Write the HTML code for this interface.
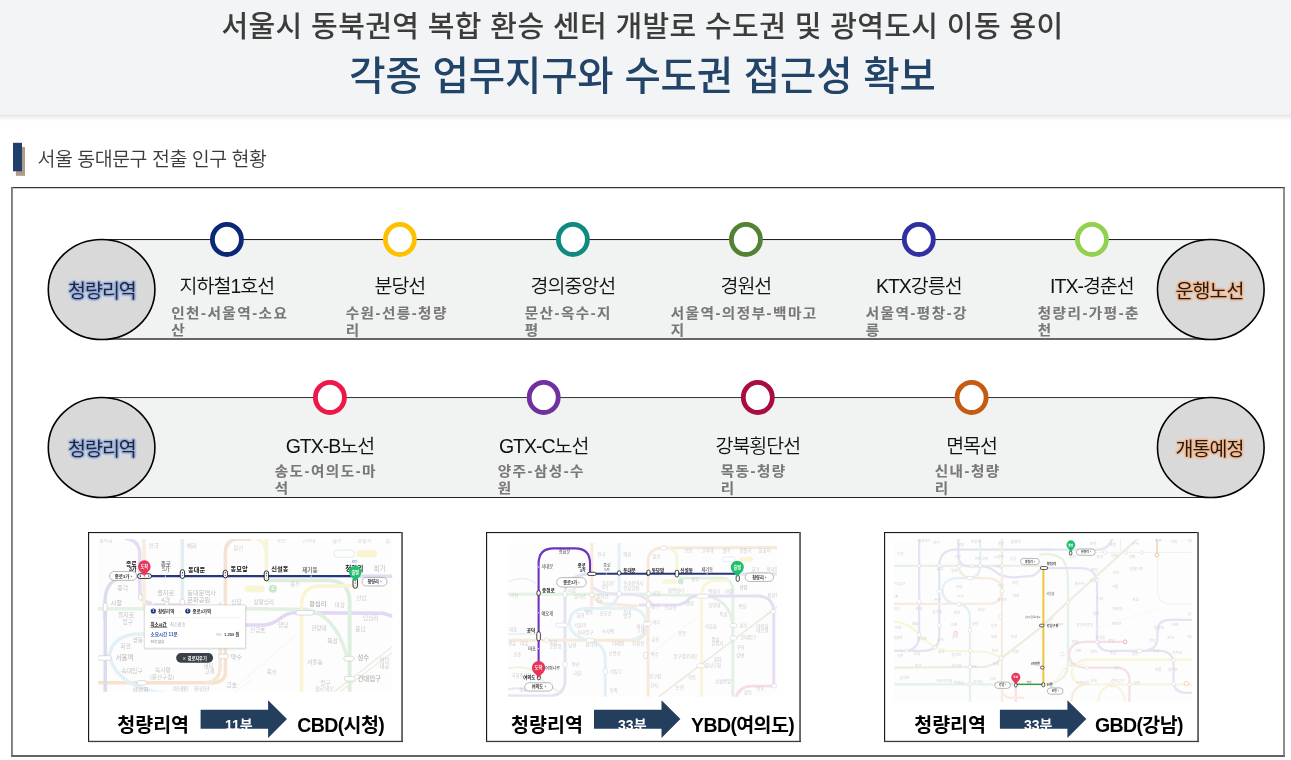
<!DOCTYPE html>
<html lang="ko">
<head>
<meta charset="utf-8">
<title>각종 업무지구와 수도권 접근성 확보</title>
<style>
*{box-sizing:border-box;margin:0;padding:0}
html,body{width:1291px;height:760px;overflow:hidden;background:#fff}
body{position:relative;font-family:"Liberation Sans","Noto Sans CJK KR",sans-serif;color:#222}
.abs{position:absolute}
#t1{left:-3px;top:1px;width:1291px;text-align:center;font-size:29px;line-height:52px;color:#3c3c3c;font-weight:500;white-space:nowrap;letter-spacing:.38px}
#t2{left:-3px;top:48px;width:1291px;text-align:center;font-size:39.5px;line-height:56px;color:#224469;font-weight:500;white-space:nowrap;letter-spacing:-.14px}
#sec{left:37.5px;top:145.1px;font-size:19.5px;line-height:28px;color:#3a3a3a;font-weight:350;white-space:nowrap;letter-spacing:-.5px}
.big{width:107px;height:100px;text-align:center;font-weight:400;font-size:19.5px;line-height:100px;letter-spacing:-1px;white-space:nowrap}
.big.l{left:48.4px;color:#1f2638;text-shadow:1.3px 0px 1.2px #9bb1df,-1.3px 0px 1.2px #9bb1df,0px 1.3px 1.2px #9bb1df,0px -1.3px 1.2px #9bb1df,1px 1px 1.2px #9bb1df,-1px 1px 1.2px #9bb1df,1px -1px 1.2px #9bb1df,-1px -1px 1.2px #9bb1df,0 0 2.5px #9bb1df}
.big.r{left:1156px;color:#221a14;text-shadow:1.3px 0px 1.2px #f3b88f,-1.3px 0px 1.2px #f3b88f,0px 1.3px 1.2px #f3b88f,0px -1.3px 1.2px #f3b88f,1px 1px 1.2px #f3b88f,-1px 1px 1.2px #f3b88f,1px -1px 1.2px #f3b88f,-1px -1px 1.2px #f3b88f,0 0 2.5px #f3b88f}
.lbl{width:180px;margin-left:-90px;text-align:center;font-size:19.5px;line-height:28px;font-weight:350;color:#111;white-space:nowrap;letter-spacing:-1px}
.sub{font-size:14.6px;line-height:18.3px;font-weight:700;color:#787878;white-space:nowrap;letter-spacing:1.5px;transform:scaleY(.94);transform-origin:0 0;-webkit-text-stroke:.12px #787878}
.cap{font-size:19.5px;font-weight:700;color:#000;line-height:28px;white-space:nowrap}
.min{font-size:14px;font-weight:700;color:#fff;white-space:nowrap;line-height:20px;overflow:hidden}
</style>
</head>
<body>
<svg class="abs" id="gfx" width="1291" height="760" viewBox="0 0 1291 760" style="left:0;top:0">
<defs><linearGradient id="sh" x1="0" y1="0" x2="0" y2="1"><stop offset="0" stop-color="#000" stop-opacity=".15"/><stop offset=".22" stop-color="#000" stop-opacity=".07"/><stop offset="1" stop-color="#000" stop-opacity="0"/></linearGradient><filter id="soft" x="-5%" y="-5%" width="110%" height="110%"><feGaussianBlur stdDeviation="0.35"/></filter></defs>
<rect x="0" y="114.6" width="1291" height="6.6" fill="url(#sh)"/>
<rect x="0" y="0" width="1291" height="114.7" fill="#f2f4f5"/>
<rect x="15.9" y="147" width="9.1" height="28.8" fill="#b09a8a"/>
<rect x="13" y="142.8" width="9" height="28.5" fill="#20406a"/>
<rect x="11" y="187" width="1274" height="569.6" fill="#fff"/>
<rect x="11" y="187" width="1274" height="1.25" fill="#383838"/>
<rect x="11" y="755.3" width="1274" height="1.4" fill="#222"/>
<rect x="11.1" y="187" width="1.7" height="569.6" fill="#707070"/>
<rect x="1283.2" y="187" width="1.6" height="569.6" fill="#707070"/>
<rect x="101" y="240" width="1110" height="98" fill="#f1f2f2"/>
<rect x="101" y="239" width="1110" height="1.05" fill="#222"/>
<rect x="101" y="338" width="1110" height="2" fill="#666"/>
<ellipse cx="101.6" cy="289.5" rx="53.3" ry="50.05" fill="#d9d9d9" stroke="#000" stroke-width="1.6"/>
<ellipse cx="1210.8" cy="289.5" rx="53.3" ry="50.05" fill="#d9d9d9" stroke="#000" stroke-width="1.6"/>
<ellipse cx="226.9" cy="239.4" rx="14.5" ry="15.1" fill="#fff" stroke="#0b2878" stroke-width="4.8"/>
<ellipse cx="399.9" cy="239.4" rx="14.5" ry="15.1" fill="#fff" stroke="#ffc000" stroke-width="4.8"/>
<ellipse cx="572.9" cy="239.4" rx="14.5" ry="15.1" fill="#fff" stroke="#0e8a80" stroke-width="4.8"/>
<ellipse cx="745.9" cy="239.4" rx="14.5" ry="15.1" fill="#fff" stroke="#548235" stroke-width="4.8"/>
<ellipse cx="918.8" cy="239.4" rx="14.5" ry="15.1" fill="#fff" stroke="#3030a2" stroke-width="4.8"/>
<ellipse cx="1091.9" cy="239.4" rx="14.5" ry="15.1" fill="#fff" stroke="#92d050" stroke-width="4.8"/>
<rect x="101" y="398" width="1110" height="99" fill="#f1f2f2"/>
<rect x="101" y="397" width="1110" height="1.05" fill="#3c3c3c"/>
<rect x="101" y="497" width="1110" height="1" fill="#222"/>
<ellipse cx="101.6" cy="447.5" rx="53.3" ry="50.05" fill="#d9d9d9" stroke="#000" stroke-width="1.6"/>
<ellipse cx="1210.8" cy="447.5" rx="53.3" ry="50.05" fill="#d9d9d9" stroke="#000" stroke-width="1.6"/>
<ellipse cx="329.9" cy="397.4" rx="14.5" ry="15.1" fill="#fff" stroke="#ee1848" stroke-width="4.8"/>
<ellipse cx="543.7" cy="397.4" rx="14.5" ry="15.1" fill="#fff" stroke="#7030a0" stroke-width="4.8"/>
<ellipse cx="757.8" cy="397.4" rx="14.5" ry="15.1" fill="#fff" stroke="#a80c40" stroke-width="4.8"/>
<ellipse cx="971.6" cy="397.4" rx="14.5" ry="15.1" fill="#fff" stroke="#c55a11" stroke-width="4.8"/>
<rect x="88" y="532" width="315" height="210" fill="#fff"/>
<rect x="88" y="532" width="315" height="1.1" fill="#1a1a1a"/>
<rect x="88" y="532" width="1.15" height="210" fill="#1a1a1a"/>
<rect x="401.1" y="532" width="1.9" height="210" fill="#666"/>
<rect x="88" y="740.8" width="315" height="1.3" fill="#3c3c3c"/>
<rect x="486" y="532" width="315" height="210" fill="#fff"/>
<rect x="486" y="532" width="315" height="1.1" fill="#1a1a1a"/>
<rect x="486" y="532" width="1.15" height="210" fill="#1a1a1a"/>
<rect x="799.1" y="532" width="1.9" height="210" fill="#666"/>
<rect x="486" y="740.8" width="315" height="1.3" fill="#3c3c3c"/>
<rect x="884" y="532" width="315" height="210" fill="#fff"/>
<rect x="884" y="532" width="315" height="1.1" fill="#1a1a1a"/>
<rect x="884" y="532" width="1.15" height="210" fill="#1a1a1a"/>
<rect x="1197.1" y="532" width="1.9" height="210" fill="#666"/>
<rect x="884" y="740.8" width="315" height="1.3" fill="#3c3c3c"/>
<clipPath id="c1"><rect x="98" y="539" width="294.3" height="152.8"/></clipPath>
<g clip-path="url(#c1)" font-family="'Liberation Sans','Noto Sans CJK KR',sans-serif">
<rect x="98" y="539" width="294.3" height="152.8" fill="#fdfdfd"/>
<g filter="url(#soft)" opacity=".72">
<path d="M125.58,538.21Q139.79,540.32 139.79,555.05L139.79,590.84Q139.79,602.42 150.84,602.95" fill="none" stroke="#ddd0f0" stroke-width="3.5" stroke-linecap="round" stroke-linejoin="round" opacity="1" />
<path d="M154.89,604.96L183.98,604.96Q206.36,604.96 215.31,619.51L224.26,625.1" fill="none" stroke="#ddd0f0" stroke-width="3.5" stroke-linecap="round" stroke-linejoin="round" opacity="1" />
<path d="M231.05,625.1L264.61,625.1Q273.56,623.98 280.28,618.39Q286.99,612.79 295.94,612.79L383.21,613.24L392.16,616.15" fill="none" stroke="#d9c8ee" stroke-width="3.5" stroke-linecap="round" stroke-linejoin="round" opacity="1" />
<path d="M144.0,538.21L144.0,607.68" fill="none" stroke="#f6e6d2" stroke-width="3.5" stroke-linecap="round" stroke-linejoin="round" opacity="1" />
<path d="M249.99,538.95L237.68,538.95Q225.38,540.07 225.38,552.38L225.38,673.21Q224.26,682.83 210.83,682.83L96.71,682.83" fill="none" stroke="#f0d9c0" stroke-width="3.5" stroke-linecap="round" stroke-linejoin="round" opacity="1" />
<path d="M220.23,603.84L220.23,666.5Q219.78,681.04 206.36,682.83" fill="none" stroke="#f3dfc8" stroke-width="3.5" stroke-linecap="round" stroke-linejoin="round" opacity="1" />
<path d="M137.68,576.11L125.58,576.63Q105.05,579.26 105.05,601.37L105.05,618.21" fill="none" stroke="#ccd0ea" stroke-width="3.5" stroke-linecap="round" stroke-linejoin="round" opacity="1" />
<path d="M105.22,603.84L105.22,693.35" fill="none" stroke="#c9cfe8" stroke-width="3.5" stroke-linecap="round" stroke-linejoin="round" opacity="1" />
<path d="M182.41,538.95L182.41,603.84" fill="none" stroke="#d6e8f3" stroke-width="3.5" stroke-linecap="round" stroke-linejoin="round" opacity="1" />
<path d="M96.71,608.76L145.94,608.76" fill="none" stroke="#d9edda" stroke-width="3.5" stroke-linecap="round" stroke-linejoin="round" opacity="1" />
<path d="M244.48,608.76L307.13,609.44Q333.98,615.03 345.17,650.83L347.41,657.55" fill="none" stroke="#d4ead6" stroke-width="3.5" stroke-linecap="round" stroke-linejoin="round" opacity="1" />
<path d="M267.97,580.35L329.51,580.35Q349.64,581.47 349.64,601.6L349.64,693.35" fill="none" stroke="#d0e8d2" stroke-width="3.9" stroke-linecap="round" stroke-linejoin="round" opacity="1" />
<path d="M301.54,693.35L301.54,603.84Q302.65,587.06 318.32,585.94L351.88,585.94" fill="none" stroke="#f8f0c4" stroke-width="3.5" stroke-linecap="round" stroke-linejoin="round" opacity="1" />
<path d="M266.4,538.95Q266.4,538.95 266.4,572.52" fill="none" stroke="#f6f0cc" stroke-width="3.5" stroke-linecap="round" stroke-linejoin="round" opacity="1" />
<path d="M257.9,538.95Q266.4,543.43 266.4,552.38" fill="none" stroke="#f6f0cc" stroke-width="3.5" stroke-linecap="round" stroke-linejoin="round" opacity="1" />
<path d="M109.02,658.66Q110.14,637.41 134.75,634.05L145.94,634.05" fill="none" stroke="#d8ecf4" stroke-width="3.5" stroke-linecap="round" stroke-linejoin="round" opacity="1" />
<path d="M109.02,655.31Q116.85,686.63 163.84,693.35" fill="none" stroke="#d8ecf4" stroke-width="3.5" stroke-linecap="round" stroke-linejoin="round" opacity="1" />
<path d="M333.98,692.23L394.4,645.24" fill="none" stroke="#ebe6d6" stroke-width="1.6" stroke-linecap="round" stroke-linejoin="round" opacity="1" />
<path d="M339.57,692.23L394.4,650.83" fill="none" stroke="#e2ead8" stroke-width="1.2" stroke-linecap="round" stroke-linejoin="round" opacity="1" />
<path d="M231.05,691.11L295.94,635.17" fill="none" stroke="#eeeeee" stroke-width="0.8" stroke-linecap="round" stroke-linejoin="round" opacity="1" />
<path d="M233.21,693.35L251.11,679.92" fill="none" stroke="#eeeeee" stroke-width="0.8" stroke-linecap="round" stroke-linejoin="round" opacity="1" />
<path d="M354.12,576.32L394.4,576.32" fill="none" stroke="#ccd2ea" stroke-width="3.5" stroke-linecap="round" stroke-linejoin="round" opacity="1" />
</g>
<text x="98.95" y="542.31" font-size="5" fill="#d4d4d4" font-weight="400" text-anchor="start" >경복궁</text>
<text x="148.63" y="547.9" font-size="5.6" fill="#d0d0d0" font-weight="400" text-anchor="start" >안국</text>
<text x="186.67" y="547.9" font-size="5.6" fill="#d0d0d0" font-weight="400" text-anchor="start" >혜화</text>
<text x="233.21" y="550.14" font-size="5.6" fill="#d4d4d4" font-weight="400" text-anchor="start" >창신</text>
<text x="117.3" y="589.97" font-size="6" fill="#c6c6c6" font-weight="400" text-anchor="start" >종각</text>
<text x="110.59" y="604.51" font-size="6.2" fill="#b8b8b8" font-weight="400" text-anchor="start" >시청</text>
<text x="117.97" y="616.82" font-size="5.8" fill="#c6c6c6" font-weight="400" text-anchor="start" >을지로</text>
<text x="122.45" y="623.53" font-size="5.8" fill="#c6c6c6" font-weight="400" text-anchor="start" >입구</text>
<text x="157.13" y="594.89" font-size="6.2" fill="#bdbdbd" font-weight="400" text-anchor="start" >을지로</text>
<text x="161.16" y="601.6" font-size="6.2" fill="#bdbdbd" font-weight="400" text-anchor="start" >4가</text>
<text x="187.34" y="594.89" font-size="6.2" fill="#bdbdbd" font-weight="400" text-anchor="start" >동대문역사</text>
<text x="187.34" y="602.05" font-size="6.2" fill="#bdbdbd" font-weight="400" text-anchor="start" >문화공원</text>
<text x="230.97" y="603.84" font-size="6" fill="#c6c6c6" font-weight="400" text-anchor="start" >신당</text>
<text x="132.52" y="641.88" font-size="5.8" fill="#c6c6c6" font-weight="400" text-anchor="start" >명동</text>
<text x="120.21" y="648.15" font-size="5.8" fill="#c6c6c6" font-weight="400" text-anchor="start" >회현</text>
<text x="115.73" y="660.45" font-size="6.4" fill="#b4b4b4" font-weight="400" text-anchor="start" >서울역</text>
<text x="121.33" y="673.21" font-size="5.8" fill="#c6c6c6" font-weight="400" text-anchor="start" >숙대입구</text>
<text x="154.89" y="672.09" font-size="5.8" fill="#c6c6c6" font-weight="400" text-anchor="start" >녹사평</text>
<text x="149.97" y="678.8" font-size="5.6" fill="#c6c6c6" font-weight="400" text-anchor="start" >(용산구청)</text>
<text x="132.52" y="691.56" font-size="5.8" fill="#b8b8b8" font-weight="400" text-anchor="start" >삼각지</text>
<text x="172.79" y="691.11" font-size="5.6" fill="#c6c6c6" font-weight="400" text-anchor="start" >이태원</text>
<text x="194.05" y="691.11" font-size="5.6" fill="#c6c6c6" font-weight="400" text-anchor="start" >한강진</text>
<text x="230.52" y="658.66" font-size="6.2" fill="#b8b8b8" font-weight="400" text-anchor="start" >약수</text>
<text x="203.67" y="667.61" font-size="5.4" fill="#c6c6c6" font-weight="400" text-anchor="start" >버티</text>
<text x="204.57" y="673.21" font-size="5.4" fill="#c6c6c6" font-weight="400" text-anchor="start" >고개</text>
<text x="226.5" y="686.63" font-size="5.6" fill="#c6c6c6" font-weight="400" text-anchor="start" >금호</text>
<text x="276.92" y="542.31" font-size="5" fill="#d6d6d6" font-weight="400" text-anchor="start" >보문</text>
<text x="301.54" y="542.31" font-size="5" fill="#d6d6d6" font-weight="400" text-anchor="start" >고려대</text>
<text x="332.19" y="542.31" font-size="5" fill="#d6d6d6" font-weight="400" text-anchor="start" >월곡</text>
<text x="357.48" y="542.31" font-size="5" fill="#d6d6d6" font-weight="400" text-anchor="start" >상월곡</text>
<text x="385.45" y="542.31" font-size="5" fill="#d6d6d6" font-weight="400" text-anchor="start" >돌</text>
<text x="290.35" y="585.94" font-size="5.4" fill="#cfcfcf" font-weight="400" text-anchor="start" >용두</text>
<text x="253.43" y="604.29" font-size="5.6" fill="#c6c6c6" font-weight="400" text-anchor="start" >상왕십리</text>
<text x="309.37" y="606.08" font-size="6.2" fill="#b0b0b0" font-weight="500" text-anchor="start" >왕십리</text>
<text x="335.1" y="607.2" font-size="5.4" fill="#c6c6c6" font-weight="400" text-anchor="start" >마장</text>
<text x="356.36" y="600.49" font-size="5.6" fill="#c6c6c6" font-weight="400" text-anchor="start" >신답</text>
<text x="363.07" y="619.51" font-size="5.6" fill="#c6c6c6" font-weight="400" text-anchor="start" >답십리</text>
<text x="250.07" y="631.81" font-size="5.6" fill="#c6c6c6" font-weight="400" text-anchor="start" >신금호</text>
<text x="278.04" y="627.34" font-size="5.6" fill="#c6c6c6" font-weight="400" text-anchor="start" >행당</text>
<text x="311.16" y="629.57" font-size="5.6" fill="#c6c6c6" font-weight="400" text-anchor="start" >한양대</text>
<text x="355.24" y="630.69" font-size="5.6" fill="#c6c6c6" font-weight="400" text-anchor="start" >용답</text>
<text x="327.27" y="643.0" font-size="5.6" fill="#c6c6c6" font-weight="400" text-anchor="start" >뚝섬</text>
<text x="357.48" y="660.45" font-size="6.4" fill="#b0b0b0" font-weight="500" text-anchor="start" >성수</text>
<text x="379.85" y="662.02" font-size="5.2" fill="#c6c6c6" font-weight="400" text-anchor="start" >어린</text>
<text x="379.85" y="668.29" font-size="5.2" fill="#c6c6c6" font-weight="400" text-anchor="start" >대공</text>
<text x="357.48" y="681.04" font-size="6.4" fill="#b0b0b0" font-weight="500" text-anchor="start" >건대입구</text>
<text x="307.13" y="664.26" font-size="5.6" fill="#c6c6c6" font-weight="400" text-anchor="start" >서울숲</text>
<text x="266.85" y="674.33" font-size="5.4" fill="#c6c6c6" font-weight="400" text-anchor="start" >옥수</text>
<text x="320.55" y="684.84" font-size="5.4" fill="#c6c6c6" font-weight="400" text-anchor="start" >압구</text>
<text x="314.96" y="691.11" font-size="5.2" fill="#c6c6c6" font-weight="400" text-anchor="start" >정로데오</text>
<text x="373.81" y="570.95" font-size="6.4" fill="#c2c2c2" font-weight="400" text-anchor="start" >회기</text>
<g opacity=".55">
<rect x="333.98" y="550.14" width="20.6" height="7.2" rx="3.5" fill="#fff" stroke="#a8d8e0" stroke-width=".7"/>
<rect x="356.36" y="549.69" width="20.6" height="7.6" rx="3.5" fill="#f6eeb0"/>
<rect x="244.48" y="585.49" width="20.1" height="6.7" rx="3.3" fill="#f4f0b8"/>
<circle cx="272.89" cy="588.63" r="4" fill="#9fd6a4"/><text x="272.89" y="590.33" font-size="4.6" fill="#fff" font-weight="700" text-anchor="middle">2</text>
</g>
<rect x="103.22" y="602.95" width="4" height="8.5" rx="2.0" ry="2.0" fill="#fff" stroke="#cfcfcf" stroke-width="0.7"/>
<rect x="97.54" y="655.74" width="14" height="4.5" rx="2.25" ry="2.25" fill="#fff" stroke="#cfcfcf" stroke-width="0.7"/>
<rect x="136.91" y="680.58" width="10" height="4.5" rx="2.25" ry="2.25" fill="#fff" stroke="#cfcfcf" stroke-width="0.7"/>
<rect x="218.59" y="654.18" width="10" height="4.5" rx="2.25" ry="2.25" fill="#fff" stroke="#cfcfcf" stroke-width="0.7"/>
<rect x="180.16" y="599.05" width="4.5" height="6" rx="2.25" ry="2.25" fill="#fff" stroke="#cfcfcf" stroke-width="0.7"/>
<rect x="164.50" y="601.79" width="4.5" height="5" rx="2.25" ry="2.25" fill="#fff" stroke="#cfcfcf" stroke-width="0.7"/>
<rect x="295.89" y="610.49" width="18" height="4.6" rx="2.3" ry="2.3" fill="#fff" stroke="#cfcfcf" stroke-width="0.7"/>
<rect x="343.72" y="656.36" width="10.5" height="4.6" rx="2.3" ry="2.3" fill="#fff" stroke="#cfcfcf" stroke-width="0.7"/>
<rect x="344.39" y="676.50" width="10.5" height="4.6" rx="2.3" ry="2.3" fill="#fff" stroke="#cfcfcf" stroke-width="0.7"/>
<rect x="138.35" y="594.13" width="4" height="6" rx="2.0" ry="2.0" fill="#fff" stroke="#cfcfcf" stroke-width="0.7"/>
<line x1="137.68" y1="576.11" x2="355.24" y2="576.11" stroke="#27367f" stroke-width="2.3"/>
<circle cx="165.41" cy="576.11" r=".7" fill="#fff"/>
<circle cx="311.16" cy="576.11" r=".7" fill="#fff"/>
<rect x="137.53" y="573.8100000000001" width="14" height="4.6" rx="2.3" fill="#fff" stroke="#1a1a1a" stroke-width=".9"/>
<circle cx="140.33" cy="576.11" r=".8" fill="#27367f"/>
<circle cx="144.53" cy="576.11" r=".8" fill="#e8a060"/>
<circle cx="148.73" cy="576.11" r=".8" fill="#7a4fc0"/>
<rect x="180.21" y="569.7800000000001" width="4.4" height="8.6" rx="2.2" fill="#fff" stroke="#1a1a1a" stroke-width=".9"/>
<circle cx="182.41" cy="572.78" r=".75" fill="#27367f"/>
<circle cx="182.41" cy="575.38" r=".75" fill="#4aa0d8"/>
<rect x="223.18" y="570.2800000000001" width="4.4" height="7.6" rx="2.2" fill="#fff" stroke="#1a1a1a" stroke-width=".9"/>
<circle cx="225.38" cy="572.78" r=".75" fill="#27367f"/>
<circle cx="225.38" cy="575.38" r=".75" fill="#c08040"/>
<rect x="264.2" y="570.87" width="4.4" height="10" rx="2.2" fill="#fff" stroke="#1a1a1a" stroke-width=".9"/>
<circle cx="266.4" cy="573.27" r=".75" fill="#27367f"/>
<circle cx="266.4" cy="575.87" r=".75" fill="#3a9a4a"/>
<circle cx="266.4" cy="578.47" r=".75" fill="#e0c020"/>
<rect x="353.04" y="577.78" width="4.4" height="10.5" rx="2.2" fill="#fff" stroke="#1a1a1a" stroke-width=".9"/>
<circle cx="355.24" cy="580.43" r=".75" fill="#27367f"/>
<circle cx="355.24" cy="583.03" r=".75" fill="#40a0a0"/>
<circle cx="355.24" cy="585.63" r=".75" fill="#e0c020"/>
<rect x="109.58" y="571.58" width="27.37" height="8.74" rx="4.37" fill="#fff" stroke="#9a9a9a" stroke-width="0.7"/><text x="123.26" y="577.53" font-size="4.4" fill="#333" font-weight="700" text-anchor="middle">종로3가 ›</text>
<rect x="361.95" y="577.44" width="25.06" height="8.50" rx="4.25" fill="#fff" stroke="#9a9a9a" stroke-width="0.7"/><text x="374.48" y="583.20" font-size="4.2" fill="#333" font-weight="700" text-anchor="middle">청량리 ›</text>
<text x="136.63" y="565.58" font-size="5.8" fill="#161616" font-weight="700" text-anchor="end" >종로</text>
<text x="136.63" y="571.05" font-size="5.2" fill="#161616" font-weight="700" text-anchor="end" >3가</text>
<text x="165.79" y="565.58" font-size="5.6" fill="#6e6e6e" font-weight="500" text-anchor="middle" >종로</text>
<text x="165.79" y="571.05" font-size="5.2" fill="#6e6e6e" font-weight="500" text-anchor="middle" >5가</text>
<text x="188.01" y="572.07" font-size="6.2" fill="#161616" font-weight="700" text-anchor="start" >동대문</text>
<text x="230.52" y="571.4" font-size="6.2" fill="#161616" font-weight="700" text-anchor="start" >동묘앞</text>
<text x="271.33" y="571.4" font-size="6.2" fill="#161616" font-weight="700" text-anchor="start" >신설동</text>
<text x="302.21" y="571.62" font-size="5.6" fill="#5a5a5a" font-weight="500" text-anchor="start" >제기동</text>
<text x="345.17" y="570.72" font-size="6.6" fill="#161616" font-weight="700" text-anchor="start" >청량리</text>
<text x="351.88" y="563.12" font-size="2.6" fill="#9aa0c0" font-weight="700" text-anchor="start" >KTX</text>
<path d="M139.15,570.10 L144.32,576.03 L149.49,570.10 Z" fill="#e8365a"/><circle cx="144.32" cy="566.63" r="6.3" fill="#e8365a"/><text x="144.32" y="568.13" font-size="4.2" fill="#fff" font-weight="700" text-anchor="middle">도착</text>
<path d="M350.07,575.54 L355.24,581.27 L360.41,575.54 Z" fill="#1fbf6c"/><circle cx="355.24" cy="572.07" r="6.3" fill="#1fbf6c"/><text x="355.24" y="573.57" font-size="4.2" fill="#fff" font-weight="700" text-anchor="middle">출발</text>
<rect x="143.77" y="604.6600000000001" width="102.75" height="44.79" rx="1" fill="#000" opacity=".10"/>
<rect x="144.37" y="604.96" width="101.15" height="43.19" rx=".8" fill="#fff" stroke="#d0d0d0" stroke-width=".6"/>
<circle cx="153.33" cy="611.0" r="2.6" fill="#27367f"/><text x="153.33" y="612.3" font-size="3.6" fill="#fff" font-weight="700" text-anchor="middle">1</text>
<circle cx="187.78" cy="611.0" r="2.6" fill="#27367f"/><text x="187.78" y="612.3" font-size="3.6" fill="#fff" font-weight="700" text-anchor="middle">1</text>
<text x="158.02" y="612.79" font-size="4.4" fill="#333" font-weight="700" text-anchor="start" >청량리역</text>
<text x="177.72" y="612.79" font-size="4.4" fill="#888" font-weight="400" text-anchor="start" >→</text>
<text x="192.48" y="612.79" font-size="4.4" fill="#333" font-weight="700" text-anchor="start" >종로3가역</text>
<line x1="150.42" y1="617.72" x2="239.47" y2="617.72" stroke="#e4e4e4" stroke-width=".6"/>
<text x="150.42" y="625.55" font-size="4.4" fill="#222" font-weight="700" text-anchor="start" >최소시간</text>
<line x1="150.42" y1="627.11" x2="167.2" y2="627.11" stroke="#222" stroke-width=".7"/>
<text x="170.11" y="625.55" font-size="4.2" fill="#aaa" font-weight="400" text-anchor="start" >최소환승</text>
<text x="150.42" y="636.29" font-size="4.6" fill="#2a5aa8" font-weight="700" text-anchor="start" >소요시간 11분</text>
<text x="239.47" y="636.06" font-size="4.2" fill="#444" font-weight="700" text-anchor="end" >1,250 원</text>
<text x="222.02" y="636.06" font-size="3.4" fill="#aaa" font-weight="400" text-anchor="end" >카드</text>
<text x="150.42" y="642.55" font-size="3.8" fill="#888" font-weight="400" text-anchor="start" >환승없음</text>
<rect x="176.15" y="653.07" width="36.92" height="9.62" rx="4.81" fill="#3b3f48"/>
<text x="194.72" y="659.56" font-size="4.2" fill="#fff" font-weight="700" text-anchor="middle" font-family="'DejaVu Sans','Noto Sans CJK KR',sans-serif">✕ 경로지우기</text>
</g>
<clipPath id="c2"><rect x="508" y="543" width="269" height="153.7"/></clipPath>
<g clip-path="url(#c2)" font-family="'Liberation Sans','Noto Sans CJK KR',sans-serif">
<rect x="508" y="543" width="269" height="153.7" fill="#fdfdfd"/>
<g filter="url(#soft)" opacity=".72">
<path d="M506.84,594.2L652.24,594.2" fill="none" stroke="#dcefdc" stroke-width="2.9" stroke-linecap="round" stroke-linejoin="round" opacity="1" />
<path d="M640.0,594.87L704.87,595.32Q729.47,599.34 732.83,623.95L732.83,697.76" fill="none" stroke="#d6ecd8" stroke-width="2.9" stroke-linecap="round" stroke-linejoin="round" opacity="1" />
<path d="M680.26,578.09L722.76,578.09Q732.83,579.21 732.83,590.39L732.83,623.95" fill="none" stroke="#d6ecd8" stroke-width="2.9" stroke-linecap="round" stroke-linejoin="round" opacity="1" />
<path d="M589.6,574.07Q567.24,574.74 565.0,591.51L565.0,682.1Q563.88,694.41 551.58,695.97L506.84,695.97" fill="none" stroke="#d6daec" stroke-width="2.9" stroke-linecap="round" stroke-linejoin="round" opacity="1" />
<path d="M739.54,574.07L778.68,574.07" fill="none" stroke="#d6daec" stroke-width="2.9" stroke-linecap="round" stroke-linejoin="round" opacity="1" />
<path d="M506.84,640.28L634.34,640.28Q647.76,637.37 647.99,623.95L647.99,603.82" fill="none" stroke="#f4e2cc" stroke-width="2.9" stroke-linecap="round" stroke-linejoin="round" opacity="1" />
<path d="M591.84,542.3L591.84,590.39Q592.96,601.58 605.26,603.82L636.58,606.05" fill="none" stroke="#f6e4d0" stroke-width="2.9" stroke-linecap="round" stroke-linejoin="round" opacity="1" />
<path d="M591.84,594.87L591.84,606.05Q589.6,610.53 585.13,610.53" fill="none" stroke="#f6e4d0" stroke-width="2.9" stroke-linecap="round" stroke-linejoin="round" opacity="1" />
<path d="M619.13,542.3L619.13,592.63Q616.45,606.05 600.79,608.29L582.89,608.74Q569.47,610.53 569.47,623.95Q570.59,635.13 585.13,639.6Q605.26,641.84 605.26,659.74L605.26,697.76" fill="none" stroke="#d8eaf4" stroke-width="2.9" stroke-linecap="round" stroke-linejoin="round" opacity="1" />
<path d="M600.79,608.29L632.1,608.29Q645.53,610.53 645.97,623.95Q645.53,637.37 632.1,639.6" fill="none" stroke="#dcecf2" stroke-width="2.9" stroke-linecap="round" stroke-linejoin="round" opacity="1" />
<path d="M594.08,588.16Q600.79,593.75 614.21,593.75L636.58,594.87Q645.53,597.11 652.24,603.82" fill="none" stroke="#e4daf2" stroke-width="2.9" stroke-linecap="round" stroke-linejoin="round" opacity="1" />
<path d="M640.0,604.93L678.03,604.93Q684.74,603.82 688.09,599.79Q691.45,595.99 698.16,595.99L758.55,595.99Q773.76,597.11 773.76,612.76L773.76,684.34" fill="none" stroke="#ddd0f0" stroke-width="2.9" stroke-linecap="round" stroke-linejoin="round" opacity="1" />
<path d="M736.18,697.76Q738.42,686.58 751.84,686.13L774.21,686.13" fill="none" stroke="#f3cfdc" stroke-width="2.9" stroke-linecap="round" stroke-linejoin="round" opacity="1" />
<path d="M648.05,697.76L648.05,561.32Q648.5,548.34 662.37,547.89L778.68,547.45" fill="none" stroke="#f4e2cc" stroke-width="2.9" stroke-linecap="round" stroke-linejoin="round" opacity="1" />
<path d="M676.91,572.5L676.91,556.84Q675.79,549.01 666.84,547.89" fill="none" stroke="#f6f0cc" stroke-width="2.9" stroke-linecap="round" stroke-linejoin="round" opacity="1" />
<path d="M701.51,697.76L701.51,594.87Q702.18,581.0 716.05,580.33L729.47,580.33" fill="none" stroke="#f8f2cc" stroke-width="2.9" stroke-linecap="round" stroke-linejoin="round" opacity="1" />
<path d="M657.89,697.32L777.57,606.5" fill="none" stroke="#e6e2d0" stroke-width="1.7" stroke-linecap="round" stroke-linejoin="round" opacity="1" />
<path d="M648.95,655.26L702.63,612.76" fill="none" stroke="#efefef" stroke-width="0.8" stroke-linecap="round" stroke-linejoin="round" opacity="1" />
<path d="M506.84,634.01L535.92,634.01" fill="none" stroke="#dcecf4" stroke-width="1.6" stroke-linecap="round" stroke-linejoin="round" opacity="1" />
<path d="M509.08,581.45Q524.74,574.74 535.92,583.68" fill="none" stroke="#e8e8f0" stroke-width="1.4" stroke-linecap="round" stroke-linejoin="round" opacity="1" />
<path d="M507.96,668.68Q524.74,664.21 535.92,673.16Q547.11,686.58 558.29,691.05" fill="none" stroke="#f2e6d6" stroke-width="1.8" stroke-linecap="round" stroke-linejoin="round" opacity="1" />
<path d="M506.84,689.93Q515.79,686.58 524.74,689.93" fill="none" stroke="#e6daf0" stroke-width="1.8" stroke-linecap="round" stroke-linejoin="round" opacity="1" />
</g>
<text x="597.43" y="555.72" font-size="4.4" fill="#cccccc" font-weight="400" text-anchor="start" >안국</text>
<text x="623.16" y="555.72" font-size="4.4" fill="#cccccc" font-weight="400" text-anchor="start" >혜화</text>
<text x="601.91" y="584.8" font-size="4.4" fill="#cccccc" font-weight="400" text-anchor="start" >을지로</text>
<text x="601.91" y="589.28" font-size="4.4" fill="#cccccc" font-weight="400" text-anchor="start" >4가</text>
<text x="623.16" y="584.8" font-size="4.4" fill="#cccccc" font-weight="400" text-anchor="start" >동대문역사</text>
<text x="623.16" y="589.95" font-size="4.4" fill="#cccccc" font-weight="400" text-anchor="start" >문화공원</text>
<text x="567.68" y="591.51" font-size="4.4" fill="#cccccc" font-weight="400" text-anchor="start" >시청</text>
<text x="573.95" y="598.22" font-size="4.4" fill="#cccccc" font-weight="400" text-anchor="start" >을지로</text>
<text x="596.32" y="598.22" font-size="4.4" fill="#cccccc" font-weight="400" text-anchor="start" >을지로</text>
<text x="596.32" y="602.7" font-size="4.4" fill="#cccccc" font-weight="400" text-anchor="start" >3가</text>
<text x="576.18" y="617.24" font-size="4.4" fill="#cccccc" font-weight="400" text-anchor="start" >회현</text>
<text x="585.13" y="613.88" font-size="4.4" fill="#cccccc" font-weight="400" text-anchor="start" >명동</text>
<text x="599.67" y="614.55" font-size="4.4" fill="#cccccc" font-weight="400" text-anchor="start" >충무로</text>
<text x="623.16" y="613.88" font-size="4.4" fill="#cccccc" font-weight="400" text-anchor="start" >동대</text>
<text x="623.16" y="617.68" font-size="4.4" fill="#cccccc" font-weight="400" text-anchor="start" >입구</text>
<text x="573.95" y="626.63" font-size="4.4" fill="#cccccc" font-weight="400" text-anchor="start" >서울역</text>
<text x="577.3" y="634.01" font-size="4.4" fill="#cccccc" font-weight="400" text-anchor="start" >숙대입구</text>
<text x="601.91" y="633.34" font-size="4.4" fill="#cccccc" font-weight="400" text-anchor="start" >녹사평</text>
<text x="585.13" y="645.87" font-size="4.4" fill="#cccccc" font-weight="400" text-anchor="start" >삼각지</text>
<text x="611.97" y="644.53" font-size="4.4" fill="#cccccc" font-weight="400" text-anchor="start" >이태원</text>
<text x="632.1" y="644.53" font-size="4.4" fill="#cccccc" font-weight="400" text-anchor="start" >한강진</text>
<text x="636.58" y="628.42" font-size="4.4" fill="#cccccc" font-weight="400" text-anchor="start" >버티</text>
<text x="636.58" y="632.45" font-size="4.4" fill="#cccccc" font-weight="400" text-anchor="start" >고개</text>
<text x="510.2" y="597.11" font-size="4.4" fill="#cccccc" font-weight="400" text-anchor="start" >아현</text>
<text x="509.08" y="630.66" font-size="4.4" fill="#cccccc" font-weight="400" text-anchor="start" >대흥</text>
<text x="507.96" y="644.53" font-size="4.4" fill="#cccccc" font-weight="400" text-anchor="start" >광흥</text>
<text x="520.26" y="644.53" font-size="4.4" fill="#cccccc" font-weight="400" text-anchor="start" >대흥</text>
<text x="549.34" y="644.08" font-size="4.4" fill="#cccccc" font-weight="400" text-anchor="start" >효창</text>
<text x="549.34" y="648.1" font-size="4.4" fill="#cccccc" font-weight="400" text-anchor="start" >공원앞</text>
<text x="568.36" y="647.43" font-size="4.4" fill="#cccccc" font-weight="400" text-anchor="start" >남영</text>
<text x="513.55" y="656.38" font-size="4.4" fill="#cccccc" font-weight="400" text-anchor="start" >신촌</text>
<text x="571.71" y="666.0" font-size="4.4" fill="#cccccc" font-weight="400" text-anchor="start" >용산</text>
<text x="573.95" y="675.39" font-size="4.4" fill="#cccccc" font-weight="400" text-anchor="start" >이촌</text>
<text x="608.62" y="655.26" font-size="4.4" fill="#cccccc" font-weight="400" text-anchor="start" >신용산</text>
<text x="609.74" y="673.16" font-size="4.4" fill="#cccccc" font-weight="400" text-anchor="start" >서빙고</text>
<text x="609.74" y="691.5" font-size="4.4" fill="#cccccc" font-weight="400" text-anchor="start" >동작</text>
<text x="511.32" y="676.51" font-size="4.4" fill="#cccccc" font-weight="400" text-anchor="start" >국회의사당</text>
<text x="519.14" y="691.05" font-size="4.4" fill="#cccccc" font-weight="400" text-anchor="start" >샛강</text>
<text x="652.3" y="594.87" font-size="4.4" fill="#cccccc" font-weight="400" text-anchor="start" >신당</text>
<text x="667.96" y="591.51" font-size="4.4" fill="#cccccc" font-weight="400" text-anchor="start" >상왕십리</text>
<text x="708.22" y="592.63" font-size="4.4" fill="#cccccc" font-weight="400" text-anchor="start" >왕십리</text>
<text x="725.0" y="592.63" font-size="4.4" fill="#cccccc" font-weight="400" text-anchor="start" >마장</text>
<text x="739.54" y="588.61" font-size="4.4" fill="#cccccc" font-weight="400" text-anchor="start" >신답</text>
<text x="767.5" y="597.11" font-size="4.4" fill="#cccccc" font-weight="400" text-anchor="start" >장한평</text>
<text x="651.18" y="608.29" font-size="4.4" fill="#cccccc" font-weight="400" text-anchor="start" >청구</text>
<text x="664.61" y="608.74" font-size="4.4" fill="#cccccc" font-weight="400" text-anchor="start" >신금호</text>
<text x="685.86" y="604.93" font-size="4.4" fill="#cccccc" font-weight="400" text-anchor="start" >행당</text>
<text x="708.22" y="606.5" font-size="4.4" fill="#cccccc" font-weight="400" text-anchor="start" >한양대</text>
<text x="738.42" y="608.29" font-size="4.4" fill="#cccccc" font-weight="400" text-anchor="start" >용답</text>
<text x="719.41" y="616.12" font-size="4.4" fill="#cccccc" font-weight="400" text-anchor="start" >뚝섬</text>
<text x="739.54" y="626.63" font-size="4.4" fill="#cccccc" font-weight="400" text-anchor="start" >성수</text>
<text x="704.87" y="628.42" font-size="4.4" fill="#cccccc" font-weight="400" text-anchor="start" >서울숲</text>
<text x="740.66" y="639.16" font-size="4.4" fill="#cccccc" font-weight="400" text-anchor="start" >건대입구</text>
<text x="756.32" y="628.42" font-size="4.4" fill="#cccccc" font-weight="400" text-anchor="start" >어린이</text>
<text x="756.32" y="632.45" font-size="4.4" fill="#cccccc" font-weight="400" text-anchor="start" >대공원</text>
<text x="652.3" y="624.39" font-size="4.4" fill="#cccccc" font-weight="400" text-anchor="start" >약수</text>
<text x="651.18" y="640.72" font-size="4.4" fill="#cccccc" font-weight="400" text-anchor="start" >금호</text>
<text x="650.74" y="656.38" font-size="4.4" fill="#cccccc" font-weight="400" text-anchor="start" >옥수</text>
<text x="678.03" y="634.68" font-size="4.4" fill="#cccccc" font-weight="400" text-anchor="start" >응봉</text>
<text x="673.55" y="657.5" font-size="4.4" fill="#cccccc" font-weight="400" text-anchor="start" >압구정로데오</text>
<text x="711.58" y="640.72" font-size="4.4" fill="#cccccc" font-weight="400" text-anchor="start" >뚝섬</text>
<text x="711.13" y="644.53" font-size="4.4" fill="#cccccc" font-weight="400" text-anchor="start" >유원지</text>
<text x="713.82" y="660.85" font-size="4.4" fill="#cccccc" font-weight="400" text-anchor="start" >청담</text>
<text x="704.87" y="666.89" font-size="4.4" fill="#cccccc" font-weight="400" text-anchor="start" >강남구청</text>
<text x="688.09" y="678.75" font-size="4.4" fill="#cccccc" font-weight="400" text-anchor="start" >학동</text>
<text x="714.93" y="683.22" font-size="4.4" fill="#cccccc" font-weight="400" text-anchor="start" >삼성중앙</text>
<text x="648.95" y="678.08" font-size="4.4" fill="#cccccc" font-weight="400" text-anchor="start" >압구정</text>
<text x="650.07" y="686.58" font-size="4.4" fill="#cccccc" font-weight="400" text-anchor="start" >신사</text>
<text x="675.79" y="688.82" font-size="4.4" fill="#cccccc" font-weight="400" text-anchor="start" >논현</text>
<text x="736.18" y="648.55" font-size="4.4" fill="#cccccc" font-weight="400" text-anchor="start" >구의</text>
<text x="736.18" y="657.05" font-size="4.4" fill="#cccccc" font-weight="400" text-anchor="start" >강변</text>
<text x="684.74" y="552.37" font-size="4.4" fill="#cccccc" font-weight="400" text-anchor="start" >보문</text>
<text x="701.51" y="552.37" font-size="4.4" fill="#cccccc" font-weight="400" text-anchor="start" >고려대</text>
<text x="722.76" y="552.37" font-size="4.4" fill="#cccccc" font-weight="400" text-anchor="start" >월곡</text>
<text x="739.54" y="552.37" font-size="4.4" fill="#cccccc" font-weight="400" text-anchor="start" >상월곡</text>
<text x="758.55" y="552.37" font-size="4.4" fill="#cccccc" font-weight="400" text-anchor="start" >돌곶이</text>
<text x="652.3" y="557.96" font-size="4.4" fill="#cccccc" font-weight="400" text-anchor="start" >창신</text>
<text x="751.39" y="570.71" font-size="4.4" fill="#cccccc" font-weight="400" text-anchor="start" >회기</text>
<text x="766.38" y="570.71" font-size="4.4" fill="#cccccc" font-weight="400" text-anchor="start" >외대앞</text>
<text x="691.45" y="581.0" font-size="4.4" fill="#cccccc" font-weight="400" text-anchor="start" >용두</text>
<text x="756.32" y="689.93" font-size="4.4" fill="#cccccc" font-weight="400" text-anchor="start" >천호</text>
<text x="744.01" y="694.41" font-size="4.4" fill="#cccccc" font-weight="400" text-anchor="start" >강동</text>
<text x="739.54" y="589.28" font-size="4.4" fill="#cccccc" font-weight="400" text-anchor="start" >신답</text>
<g opacity=".5">
<rect x="722.76" y="556.84" width="12.3" height="4.9" rx="2.4" fill="#fff" stroke="#a8d8e0" stroke-width=".6"/>
<rect x="739.54" y="556.84" width="13.4" height="4.9" rx="2.4" fill="#f6eeb0"/>
<rect x="662.37" y="579.21" width="14.5" height="4.5" rx="2.2" fill="#f4f0b8"/>
<circle cx="680.71" cy="581.45" r="2.8" fill="#9fd6a4"/>
</g>
<rect x="563.00" y="591.20" width="4" height="6" rx="2.0" ry="2.0" fill="#fff" stroke="#d6d6d6" stroke-width="0.6"/>
<rect x="589.64" y="592.67" width="4.4" height="4.4" rx="2.2" ry="2.2" fill="#fff" stroke="#d6d6d6" stroke-width="0.6"/>
<rect x="616.93" y="591.25" width="4.4" height="5" rx="2.2" ry="2.2" fill="#fff" stroke="#d6d6d6" stroke-width="0.6"/>
<rect x="555.64" y="623.07" width="12" height="4" rx="2.0" ry="2.0" fill="#fff" stroke="#d6d6d6" stroke-width="0.6"/>
<rect x="544.23" y="638.08" width="4.4" height="4.4" rx="2.2" ry="2.2" fill="#fff" stroke="#d6d6d6" stroke-width="0.6"/>
<rect x="586.05" y="638.28" width="8" height="4" rx="2.0" ry="2.0" fill="#fff" stroke="#d6d6d6" stroke-width="0.6"/>
<rect x="563.00" y="661.21" width="4" height="6" rx="2.0" ry="2.0" fill="#fff" stroke="#d6d6d6" stroke-width="0.6"/>
<rect x="603.26" y="668.37" width="4" height="6" rx="2.0" ry="2.0" fill="#fff" stroke="#d6d6d6" stroke-width="0.6"/>
<rect x="644.64" y="621.45" width="4" height="5" rx="2.0" ry="2.0" fill="#fff" stroke="#d6d6d6" stroke-width="0.6"/>
<rect x="643.53" y="652.26" width="4" height="6" rx="2.0" ry="2.0" fill="#fff" stroke="#d6d6d6" stroke-width="0.6"/>
<rect x="646.30" y="591.55" width="4.4" height="4.4" rx="2.2" ry="2.2" fill="#fff" stroke="#d6d6d6" stroke-width="0.6"/>
<rect x="646.50" y="601.93" width="4" height="6" rx="2.0" ry="2.0" fill="#fff" stroke="#d6d6d6" stroke-width="0.6"/>
<rect x="643.16" y="621.95" width="8" height="4" rx="2.0" ry="2.0" fill="#fff" stroke="#d6d6d6" stroke-width="0.6"/>
<rect x="643.59" y="652.26" width="4" height="6" rx="2.0" ry="2.0" fill="#fff" stroke="#d6d6d6" stroke-width="0.6"/>
<rect x="696.63" y="594.21" width="12" height="4" rx="2.0" ry="2.0" fill="#fff" stroke="#d6d6d6" stroke-width="0.6"/>
<rect x="730.00" y="623.51" width="7" height="4" rx="2.0" ry="2.0" fill="#fff" stroke="#d6d6d6" stroke-width="0.6"/>
<rect x="730.00" y="636.04" width="7" height="4" rx="2.0" ry="2.0" fill="#fff" stroke="#d6d6d6" stroke-width="0.6"/>
<rect x="696.84" y="663.78" width="8" height="4" rx="2.0" ry="2.0" fill="#fff" stroke="#d6d6d6" stroke-width="0.6"/>
<rect x="770.59" y="609.64" width="5" height="4" rx="2.0" ry="2.0" fill="#fff" stroke="#d6d6d6" stroke-width="0.6"/>
<rect x="771.71" y="683.91" width="5" height="4" rx="2.0" ry="2.0" fill="#fff" stroke="#d6d6d6" stroke-width="0.6"/>
<rect x="660.49" y="545.89" width="6" height="4" rx="2.0" ry="2.0" fill="#fff" stroke="#d6d6d6" stroke-width="0.6"/>
<path d="M538.61,676.51L538.61,563.55Q538.61,548.34 553.82,548.34L575.07,548.34Q590.05,548.34 590.05,563.55L590.05,572.95" fill="none" stroke="#6b35c0" stroke-width="2.1" stroke-linecap="round" stroke-linejoin="round" opacity="1" />
<line x1="590.05" y1="573.84" x2="737.75" y2="573.84" stroke="#27367f" stroke-width="2"/>
<circle cx="538.61" cy="566.91" r=".6" fill="#fff"/>
<circle cx="538.61" cy="612.76" r=".6" fill="#fff"/>
<circle cx="538.61" cy="648.55" r=".6" fill="#fff"/>
<circle cx="606.38" cy="573.84" r=".6" fill="#fff"/>
<circle cx="707.11" cy="573.84" r=".6" fill="#fff"/>
<rect x="536.91" y="590.58" width="3.4" height="5" rx="1.7" ry="1.7" fill="#fff" stroke="#1a1a1a" stroke-width="0.8"/>
<rect x="536.81" y="631.75" width="3.6" height="9" rx="1.8" ry="1.8" fill="#fff" stroke="#1a1a1a" stroke-width="0.8"/>
<rect x="537.33" y="675.43" width="3" height="4.4" rx="1.5" ry="1.5" fill="#fff" stroke="#1a1a1a" stroke-width="0.8"/>
<rect x="587.59" y="572.24" width="8.5" height="3.2" rx="1.6" ry="1.6" fill="#fff" stroke="#1a1a1a" stroke-width="0.8"/>
<rect x="617.43" y="570.75" width="3.4" height="4.4" rx="1.7" ry="1.7" fill="#fff" stroke="#1a1a1a" stroke-width="0.8"/>
<rect x="646.61" y="571.09" width="3.2" height="4.6" rx="1.6" ry="1.6" fill="#fff" stroke="#1a1a1a" stroke-width="0.8"/>
<rect x="646.90" y="570.10" width="3.2" height="4.8" rx="1.6" ry="1.6" fill="#fff" stroke="#1a1a1a" stroke-width="0.8"/>
<rect x="675.11" y="570.22" width="3.6" height="6.8" rx="1.8" ry="1.8" fill="#fff" stroke="#1a1a1a" stroke-width="0.8"/>
<rect x="736.15" y="575.32" width="3.2" height="6" rx="1.6" ry="1.6" fill="#fff" stroke="#1a1a1a" stroke-width="0.8"/>
<rect x="556.72" y="577.64" width="29.53" height="9.40" rx="4.70" fill="#fff" stroke="#9a9a9a" stroke-width="0.7"/><text x="571.49" y="583.85" font-size="4.2" fill="#333" font-weight="700" text-anchor="middle">종로3가 ›</text>
<rect x="524.74" y="682.78" width="27.96" height="8.27" rx="4.13" fill="#fff" stroke="#9a9a9a" stroke-width="0.7"/><text x="538.72" y="688.43" font-size="4.2" fill="#333" font-weight="700" text-anchor="middle">여의도 ›</text>
<rect x="745.13" y="572.95" width="28.41" height="8.50" rx="4.25" fill="#fff" stroke="#9a9a9a" stroke-width="0.7"/><text x="759.34" y="578.71" font-size="4.2" fill="#333" font-weight="700" text-anchor="middle">청량리 ›</text>
<text x="564.55" y="553.04" font-size="4.2" fill="#555" font-weight="500" text-anchor="middle" >광화문</text>
<text x="541.51" y="568.03" font-size="4.2" fill="#555" font-weight="500" text-anchor="start" >서대문</text>
<text x="541.96" y="591.51" font-size="4.6" fill="#222" font-weight="700" text-anchor="start" >충정로</text>
<text x="541.51" y="614.55" font-size="4.2" fill="#555" font-weight="500" text-anchor="start" >애오개</text>
<text x="535.25" y="631.78" font-size="4.6" fill="#222" font-weight="700" text-anchor="end" >공덕</text>
<text x="535.92" y="650.34" font-size="4.2" fill="#555" font-weight="500" text-anchor="end" >마포</text>
<text x="545.32" y="669.8" font-size="4.0" fill="#555" font-weight="500" text-anchor="start" >여의나루</text>
<text x="535.25" y="678.53" font-size="4.4" fill="#222" font-weight="700" text-anchor="end" >여의도</text>
<text x="585.58" y="567.36" font-size="4.2" fill="#222" font-weight="700" text-anchor="end" >종로</text>
<text x="585.58" y="571.61" font-size="4.0" fill="#222" font-weight="700" text-anchor="end" >3가</text>
<text x="607.05" y="566.91" font-size="4.0" fill="#666" font-weight="500" text-anchor="middle" >종로</text>
<text x="607.05" y="571.16" font-size="3.8" fill="#666" font-weight="500" text-anchor="middle" >5가</text>
<text x="623.16" y="571.61" font-size="4.6" fill="#222" font-weight="700" text-anchor="start" >동대문</text>
<text x="651.63" y="571.61" font-size="4.6" fill="#222" font-weight="700" text-anchor="start" >동묘앞</text>
<text x="680.26" y="571.61" font-size="4.6" fill="#222" font-weight="700" text-anchor="start" >신설동</text>
<text x="701.51" y="571.16" font-size="4.2" fill="#555" font-weight="500" text-anchor="start" >제기동</text>
<path d="M533.12,671.47 L538.61,677.79 L544.10,671.47 Z" fill="#e8365a"/><circle cx="538.61" cy="667.79" r="6.7" fill="#e8365a"/><text x="538.61" y="669.29" font-size="4.2" fill="#fff" font-weight="700" text-anchor="middle">도착</text>
<path d="M731.97,570.71 L737.30,576.73 L742.63,570.71 Z" fill="#1fbf6c"/><circle cx="737.3" cy="567.13" r="6.5" fill="#1fbf6c"/><text x="737.3" y="568.63" font-size="4.2" fill="#fff" font-weight="700" text-anchor="middle">출발</text>
</g>
<clipPath id="c3"><rect x="894" y="539" width="298" height="163"/></clipPath>
<g clip-path="url(#c3)" font-family="'Liberation Sans','Noto Sans CJK KR',sans-serif">
<rect x="894" y="539" width="298" height="163" fill="#fdfdfd"/>
<g filter="url(#soft)" opacity=".72">
<path d="M919.14,537.83L919.14,635.13Q919.14,648.55 906.84,650.79L893.42,650.79" fill="none" stroke="#e2d8f2" stroke-width="2.3" stroke-linecap="round" stroke-linejoin="round" opacity="1" />
<path d="M939.28,565.79Q939.95,550.58 953.82,549.68L1052.24,549.68" fill="none" stroke="#d8dcee" stroke-width="2.3" stroke-linecap="round" stroke-linejoin="round" opacity="1" />
<path d="M939.28,565.79L939.28,637.37Q938.61,649.67 924.74,650.79L893.42,650.79" fill="none" stroke="#d8dcee" stroke-width="2.3" stroke-linecap="round" stroke-linejoin="round" opacity="1" />
<path d="M893.42,565.79L1042.17,565.79" fill="none" stroke="#dcefdc" stroke-width="2.3" stroke-linecap="round" stroke-linejoin="round" opacity="1" />
<path d="M958.29,537.83L958.29,556.84Q958.74,565.79 969.47,566.24L982.89,566.24Q991.84,568.03 996.32,572.5Q1001.91,576.97 1014.21,577.42L1032.1,575.86Q1037.7,573.62 1041.05,568.47" fill="none" stroke="#e2d8f2" stroke-width="2.3" stroke-linecap="round" stroke-linejoin="round" opacity="1" />
<path d="M958.29,563.55Q959.41,577.42 971.71,578.09L987.37,578.09Q1001.91,579.21 1001.91,590.39Q1001.91,602.7 989.6,603.82L893.42,603.82" fill="none" stroke="#f6e6d4" stroke-width="2.3" stroke-linecap="round" stroke-linejoin="round" opacity="1" />
<path d="M980.21,537.83L980.21,566.91Q979.54,577.42 969.47,578.09L956.05,578.09Q942.63,579.66 942.63,590.39Q943.08,602.7 957.17,603.82Q969.47,604.93 969.92,617.24L969.92,701.12" fill="none" stroke="#dcecf4" stroke-width="2.3" stroke-linecap="round" stroke-linejoin="round" opacity="1" />
<path d="M1001.91,537.83L1001.91,701.12" fill="none" stroke="#f6e6d4" stroke-width="2.3" stroke-linecap="round" stroke-linejoin="round" opacity="1" />
<path d="M893.42,667.57L985.13,666.89Q996.32,664.21 1001.91,657.95L1052.24,618.36" fill="none" stroke="#ebe7d8" stroke-width="2.3" stroke-linecap="round" stroke-linejoin="round" opacity="1" />
<path d="M893.42,621.71Q909.08,622.83 920.26,635.13Q930.33,647.43 947.11,650.79L985.13,651.91Q996.32,654.14 1001.91,658.62" fill="none" stroke="#f8f3d0" stroke-width="2.3" stroke-linecap="round" stroke-linejoin="round" opacity="1" />
<path d="M893.42,684.34L1014.21,684.34" fill="none" stroke="#dcefdc" stroke-width="2.3" stroke-linecap="round" stroke-linejoin="round" opacity="1" />
<path d="M1015.78,686.58L1015.78,701.12" fill="none" stroke="#f4d4de" stroke-width="2.3" stroke-linecap="round" stroke-linejoin="round" opacity="1" />
<path d="M1001.91,691.05Q1003.03,696.64 1009.74,697.76L1023.16,697.76" fill="none" stroke="#f6e6d4" stroke-width="2.3" stroke-linecap="round" stroke-linejoin="round" opacity="1" />
<path d="M1040.0,549.68L1100.39,549.68Q1109.34,547.89 1112.7,537.83" fill="none" stroke="#d8dcee" stroke-width="2.3" stroke-linecap="round" stroke-linejoin="round" opacity="1" />
<path d="M1040.0,554.61Q1053.42,552.37 1062.37,559.08Q1067.96,565.79 1067.96,581.45L1067.96,664.21Q1066.84,682.1 1046.71,684.34" fill="none" stroke="#dcefdc" stroke-width="2.3" stroke-linecap="round" stroke-linejoin="round" opacity="1" />
<path d="M1095.92,552.37L1194.34,552.37" fill="none" stroke="#e4f2e4" stroke-width="1.2" stroke-linecap="round" stroke-linejoin="round" opacity="1" stroke-dasharray="1.2 1.2"/>
<path d="M1120.53,537.83L1120.53,547.89Q1120.53,552.37 1126.12,552.37" fill="none" stroke="#e4f2e4" stroke-width="1.2" stroke-linecap="round" stroke-linejoin="round" opacity="1" />
<path d="M1046.71,568.03L1082.5,568.03Q1097.04,569.14 1097.04,583.68L1097.04,639.6Q1098.16,650.79 1109.34,650.79L1160.79,650.79Q1173.54,651.91 1173.54,664.21L1173.54,682.1Q1174.21,692.17 1185.39,692.84L1194.34,692.84" fill="none" stroke="#e2d8f2" stroke-width="2.3" stroke-linecap="round" stroke-linejoin="round" opacity="1" />
<path d="M1145.13,650.79Q1157.43,649.67 1157.43,637.37L1157.43,630.66Q1158.1,620.59 1168.62,619.92L1194.34,619.92" fill="none" stroke="#e2d8f2" stroke-width="2.3" stroke-linecap="round" stroke-linejoin="round" opacity="1" />
<path d="M1040.0,627.3L1138.42,537.83" fill="none" stroke="#ebe7d8" stroke-width="2.3" stroke-linecap="round" stroke-linejoin="round" opacity="1" />
<path d="M1121.64,641.84L1084.74,641.84Q1069.08,642.96 1069.08,655.26Q1070.2,666.89 1084.74,667.57L1117.17,667.57Q1129.47,668.68 1129.47,679.87L1129.47,701.12" fill="none" stroke="#f4d4de" stroke-width="2.3" stroke-linecap="round" stroke-linejoin="round" opacity="1" />
<path d="M1084.74,659.74L1194.34,659.74" fill="none" stroke="#f8f3d0" stroke-width="2.3" stroke-linecap="round" stroke-linejoin="round" opacity="1" />
<path d="M1084.74,659.74Q1073.55,661.97 1071.32,673.16Q1073.55,684.34 1084.74,684.34L1194.34,684.34" fill="none" stroke="#f8f3d0" stroke-width="2.3" stroke-linecap="round" stroke-linejoin="round" opacity="1" />
<path d="M1043.36,684.34Q1057.89,682.1 1061.25,673.16Q1064.61,664.21 1084.74,664.21" fill="none" stroke="#f8f3d0" stroke-width="1.6" stroke-linecap="round" stroke-linejoin="round" opacity="1" />
<path d="M1098.16,701.12Q1100.39,686.58 1111.58,685.46Q1122.76,686.58 1125.0,701.12" fill="none" stroke="#f8f3d0" stroke-width="2.3" stroke-linecap="round" stroke-linejoin="round" opacity="1" />
<path d="M1071.32,701.12Q1072.43,686.58 1084.74,684.34" fill="none" stroke="#f6e6d4" stroke-width="2.3" stroke-linecap="round" stroke-linejoin="round" opacity="1" />
<path d="M1157.43,538.95L1157.43,592.63Q1158.55,602.7 1168.62,603.82L1194.34,603.82" fill="none" stroke="#e8f0e8" stroke-width="1.2" stroke-linecap="round" stroke-linejoin="round" opacity="1" stroke-dasharray="1.2 1.2"/>
<path d="M1156.99,538.95L1156.99,552.37" fill="none" stroke="#f0c8a0" stroke-width="1.6" stroke-linecap="round" stroke-linejoin="round" opacity="1" />
<path d="M1095.92,628.42L1156.32,608.29" fill="none" stroke="#f2f2f2" stroke-width="1.0" stroke-linecap="round" stroke-linejoin="round" opacity="1" stroke-dasharray="1 1.4"/>
</g>
<circle cx="1156.99" cy="555.05" r="1.8" fill="#fff" stroke="#f0c8a0" stroke-width="1"/>
<circle cx="1125.0" cy="641.84" r="1.9" fill="#fff" stroke="#f2b0b8" stroke-width="1"/>
<circle cx="1186.51" cy="683.45" r="2.2" fill="#fff" stroke="#f8d8a8" stroke-width="1"/>
<circle cx="955.61" cy="632.89" r="1.6" fill="#fff" stroke="#f6c0c8" stroke-width="1"/>
<text x="896.87" y="554.61" font-size="3.6" fill="#d2d2d2" font-weight="400" text-anchor="start" >합정</text>
<text x="892.1" y="585.07" font-size="3.6" fill="#d2d2d2" font-weight="400" text-anchor="start" >홍대입구</text>
<text x="891.93" y="598.48" font-size="3.6" fill="#d2d2d2" font-weight="400" text-anchor="start" >신촌</text>
<text x="892.19" y="610.2" font-size="3.6" fill="#d2d2d2" font-weight="400" text-anchor="start" >이대</text>
<text x="895.05" y="628.68" font-size="3.6" fill="#d2d2d2" font-weight="400" text-anchor="start" >아현</text>
<text x="892.63" y="638.77" font-size="3.6" fill="#d2d2d2" font-weight="400" text-anchor="start" >충정로</text>
<text x="896.68" y="657.17" font-size="3.6" fill="#d2d2d2" font-weight="400" text-anchor="start" >시청</text>
<text x="899.49" y="679.27" font-size="3.6" fill="#d2d2d2" font-weight="400" text-anchor="start" >을지로</text>
<text x="918.23" y="542.1" font-size="3.6" fill="#d2d2d2" font-weight="400" text-anchor="start" >종로3가</text>
<text x="915.73" y="610.02" font-size="3.6" fill="#d2d2d2" font-weight="400" text-anchor="start" >안국</text>
<text x="911.8" y="624.79" font-size="3.6" fill="#d2d2d2" font-weight="400" text-anchor="start" >혜화</text>
<text x="916.79" y="640.05" font-size="3.6" fill="#d2d2d2" font-weight="400" text-anchor="start" >동대문</text>
<text x="913.85" y="654.9" font-size="3.6" fill="#d2d2d2" font-weight="400" text-anchor="start" >신당</text>
<text x="914.97" y="666.98" font-size="3.6" fill="#d2d2d2" font-weight="400" text-anchor="start" >청구</text>
<text x="932.97" y="543.89" font-size="3.6" fill="#d2d2d2" font-weight="400" text-anchor="start" >약수</text>
<text x="936.87" y="569.83" font-size="3.6" fill="#d2d2d2" font-weight="400" text-anchor="start" >금호</text>
<text x="934.37" y="600.51" font-size="3.6" fill="#d2d2d2" font-weight="400" text-anchor="start" >옥수</text>
<text x="932.22" y="612.69" font-size="3.6" fill="#d2d2d2" font-weight="400" text-anchor="start" >압구정</text>
<text x="937.16" y="640.96" font-size="3.6" fill="#d2d2d2" font-weight="400" text-anchor="start" >신사</text>
<text x="938.05" y="653.2" font-size="3.6" fill="#d2d2d2" font-weight="400" text-anchor="start" >잠원</text>
<text x="935.67" y="681.83" font-size="3.6" fill="#d2d2d2" font-weight="400" text-anchor="start" >고속터미널</text>
<text x="957.45" y="546.21" font-size="3.6" fill="#d2d2d2" font-weight="400" text-anchor="start" >교대</text>
<text x="954.5" y="558.32" font-size="3.6" fill="#d2d2d2" font-weight="400" text-anchor="start" >서초</text>
<text x="951.17" y="572.42" font-size="3.6" fill="#d2d2d2" font-weight="400" text-anchor="start" >방배</text>
<text x="955.9" y="588.11" font-size="3.6" fill="#d2d2d2" font-weight="400" text-anchor="start" >사당</text>
<text x="957.3" y="597.55" font-size="3.6" fill="#d2d2d2" font-weight="400" text-anchor="start" >이수</text>
<text x="953.79" y="613.82" font-size="3.6" fill="#d2d2d2" font-weight="400" text-anchor="start" >동작</text>
<text x="950.87" y="626.39" font-size="3.6" fill="#d2d2d2" font-weight="400" text-anchor="start" >이촌</text>
<text x="952.04" y="638.1" font-size="3.6" fill="#d2d2d2" font-weight="400" text-anchor="start" >용산</text>
<text x="951.16" y="656.05" font-size="3.6" fill="#d2d2d2" font-weight="400" text-anchor="start" >삼각지</text>
<text x="951.73" y="666.66" font-size="3.6" fill="#d2d2d2" font-weight="400" text-anchor="start" >녹사평</text>
<text x="953.83" y="684.43" font-size="3.6" fill="#d2d2d2" font-weight="400" text-anchor="start" >이태원</text>
<text x="971.02" y="543.1" font-size="3.6" fill="#d2d2d2" font-weight="400" text-anchor="start" >한강진</text>
<text x="974.79" y="559.69" font-size="3.6" fill="#d2d2d2" font-weight="400" text-anchor="start" >버티고개</text>
<text x="978.08" y="610.58" font-size="3.6" fill="#d2d2d2" font-weight="400" text-anchor="start" >효창</text>
<text x="971.79" y="624.95" font-size="3.6" fill="#d2d2d2" font-weight="400" text-anchor="start" >공덕</text>
<text x="970.4" y="667.73" font-size="3.6" fill="#d2d2d2" font-weight="400" text-anchor="start" >마포</text>
<text x="973.34" y="682.52" font-size="3.6" fill="#d2d2d2" font-weight="400" text-anchor="start" >여의도</text>
<text x="997.73" y="544.61" font-size="3.6" fill="#d2d2d2" font-weight="400" text-anchor="start" >샛강</text>
<text x="994.2" y="558.03" font-size="3.6" fill="#d2d2d2" font-weight="400" text-anchor="start" >노량진</text>
<text x="995.5" y="568.36" font-size="3.6" fill="#d2d2d2" font-weight="400" text-anchor="start" >대방</text>
<text x="997.3" y="586.78" font-size="3.6" fill="#d2d2d2" font-weight="400" text-anchor="start" >신길</text>
<text x="997.09" y="600.76" font-size="3.6" fill="#d2d2d2" font-weight="400" text-anchor="start" >영등포</text>
<text x="990.89" y="627.47" font-size="3.6" fill="#d2d2d2" font-weight="400" text-anchor="start" >당산</text>
<text x="990.55" y="637.79" font-size="3.6" fill="#d2d2d2" font-weight="400" text-anchor="start" >국회</text>
<text x="991.73" y="652.25" font-size="3.6" fill="#d2d2d2" font-weight="400" text-anchor="start" >흑석</text>
<text x="992.79" y="665.43" font-size="3.6" fill="#d2d2d2" font-weight="400" text-anchor="start" >노들</text>
<text x="990.05" y="679.92" font-size="3.6" fill="#d2d2d2" font-weight="400" text-anchor="start" >상도</text>
<text x="1010.55" y="542.57" font-size="3.6" fill="#d2d2d2" font-weight="400" text-anchor="start" >숭실대</text>
<text x="1009.94" y="559.63" font-size="3.6" fill="#d2d2d2" font-weight="400" text-anchor="start" >남성</text>
<text x="1011.77" y="584.07" font-size="3.6" fill="#d2d2d2" font-weight="400" text-anchor="start" >내방</text>
<text x="1012.67" y="596.53" font-size="3.6" fill="#d2d2d2" font-weight="400" text-anchor="start" >반포</text>
<text x="1010.43" y="638.01" font-size="3.6" fill="#d2d2d2" font-weight="400" text-anchor="start" >논현</text>
<text x="1012.5" y="652.89" font-size="3.6" fill="#d2d2d2" font-weight="400" text-anchor="start" >학동</text>
<text x="1009.92" y="684.93" font-size="3.6" fill="#d2d2d2" font-weight="400" text-anchor="start" >신논현</text>
<text x="1056.8" y="625.78" font-size="3.6" fill="#d2d2d2" font-weight="400" text-anchor="start" >언주</text>
<text x="1069.47" y="558.3" font-size="3.6" fill="#d2d2d2" font-weight="400" text-anchor="start" >삼성</text>
<text x="1074.83" y="584.89" font-size="3.6" fill="#d2d2d2" font-weight="400" text-anchor="start" >봉은사</text>
<text x="1076.61" y="625.98" font-size="3.6" fill="#d2d2d2" font-weight="400" text-anchor="start" >종합운동장</text>
<text x="1072.02" y="643.3" font-size="3.6" fill="#d2d2d2" font-weight="400" text-anchor="start" >잠실</text>
<text x="1074.63" y="652.3" font-size="3.6" fill="#d2d2d2" font-weight="400" text-anchor="start" >석촌</text>
<text x="1069.81" y="666.05" font-size="3.6" fill="#d2d2d2" font-weight="400" text-anchor="start" >송파</text>
<text x="1076.08" y="684.02" font-size="3.6" fill="#d2d2d2" font-weight="400" text-anchor="start" >가락시장</text>
<text x="1089.65" y="545.47" font-size="3.6" fill="#d2d2d2" font-weight="400" text-anchor="start" >문정</text>
<text x="1096.37" y="558.27" font-size="3.6" fill="#d2d2d2" font-weight="400" text-anchor="start" >장지</text>
<text x="1091.29" y="571.46" font-size="3.6" fill="#d2d2d2" font-weight="400" text-anchor="start" >복정</text>
<text x="1089.53" y="581.98" font-size="3.6" fill="#d2d2d2" font-weight="400" text-anchor="start" >수서</text>
<text x="1096.29" y="599.83" font-size="3.6" fill="#d2d2d2" font-weight="400" text-anchor="start" >일원</text>
<text x="1092.71" y="615.48" font-size="3.6" fill="#d2d2d2" font-weight="400" text-anchor="start" >대청</text>
<text x="1095.13" y="638.69" font-size="3.6" fill="#d2d2d2" font-weight="400" text-anchor="start" >학여울</text>
<text x="1090.5" y="653.07" font-size="3.6" fill="#d2d2d2" font-weight="400" text-anchor="start" >대치</text>
<text x="1090.56" y="681.6" font-size="3.6" fill="#d2d2d2" font-weight="400" text-anchor="start" >도곡</text>
<text x="1109.21" y="545.99" font-size="3.6" fill="#d2d2d2" font-weight="400" text-anchor="start" >매봉</text>
<text x="1111.01" y="557.03" font-size="3.6" fill="#d2d2d2" font-weight="400" text-anchor="start" >양재</text>
<text x="1112.85" y="573.69" font-size="3.6" fill="#d2d2d2" font-weight="400" text-anchor="start" >한티</text>
<text x="1111.54" y="587.64" font-size="3.6" fill="#d2d2d2" font-weight="400" text-anchor="start" >구룡</text>
<text x="1112.37" y="609.75" font-size="3.6" fill="#d2d2d2" font-weight="400" text-anchor="start" >개포동</text>
<text x="1111.7" y="624.65" font-size="3.6" fill="#d2d2d2" font-weight="400" text-anchor="start" >대모산</text>
<text x="1108.19" y="642.37" font-size="3.6" fill="#d2d2d2" font-weight="400" text-anchor="start" >청담</text>
<text x="1109.55" y="654.2" font-size="3.6" fill="#d2d2d2" font-weight="400" text-anchor="start" >뚝섬</text>
<text x="1114.0" y="668.59" font-size="3.6" fill="#d2d2d2" font-weight="400" text-anchor="start" >성수</text>
<text x="1110.78" y="682.22" font-size="3.6" fill="#d2d2d2" font-weight="400" text-anchor="start" >건대입구</text>
<text x="1132.31" y="545.2" font-size="3.6" fill="#d2d2d2" font-weight="400" text-anchor="start" >구의</text>
<text x="1128.7" y="557.67" font-size="3.6" fill="#d2d2d2" font-weight="400" text-anchor="start" >강변</text>
<text x="1129.84" y="569.76" font-size="3.6" fill="#d2d2d2" font-weight="400" text-anchor="start" >잠실나루</text>
<text x="1132.36" y="600.52" font-size="3.6" fill="#d2d2d2" font-weight="400" text-anchor="start" >천호</text>
<text x="1131.48" y="654.58" font-size="3.6" fill="#d2d2d2" font-weight="400" text-anchor="start" >강동</text>
<text x="1133.47" y="684.46" font-size="3.6" fill="#d2d2d2" font-weight="400" text-anchor="start" >길동</text>
<text x="1155.11" y="541.92" font-size="3.6" fill="#d2d2d2" font-weight="400" text-anchor="start" >둔촌</text>
<text x="1153.84" y="629.12" font-size="3.6" fill="#d2d2d2" font-weight="400" text-anchor="start" >올림픽</text>
<text x="1148.77" y="641.85" font-size="3.6" fill="#d2d2d2" font-weight="400" text-anchor="start" >방이</text>
<text x="1152.84" y="652.13" font-size="3.6" fill="#d2d2d2" font-weight="400" text-anchor="start" >오금</text>
<text x="1154.63" y="671.16" font-size="3.6" fill="#d2d2d2" font-weight="400" text-anchor="start" >개롱</text>
<text x="1170.42" y="543.34" font-size="3.6" fill="#d2d2d2" font-weight="400" text-anchor="start" >거여</text>
<text x="1171.67" y="626.26" font-size="3.6" fill="#d2d2d2" font-weight="400" text-anchor="start" >마천</text>
<text x="1167.36" y="639.44" font-size="3.6" fill="#d2d2d2" font-weight="400" text-anchor="start" >군자</text>
<text x="1172.23" y="654.44" font-size="3.6" fill="#d2d2d2" font-weight="400" text-anchor="start" >아차산</text>
<text x="1167.73" y="671.27" font-size="3.6" fill="#d2d2d2" font-weight="400" text-anchor="start" >광나루</text>
<text x="1187.74" y="541.95" font-size="3.6" fill="#d2d2d2" font-weight="400" text-anchor="start" >장한평</text>
<text x="1188.1" y="615.39" font-size="3.6" fill="#d2d2d2" font-weight="400" text-anchor="start" >답십리</text>
<text x="1187.61" y="637.73" font-size="3.6" fill="#d2d2d2" font-weight="400" text-anchor="start" >마장</text>
<text x="1192.44" y="653.9" font-size="3.6" fill="#d2d2d2" font-weight="400" text-anchor="start" >용답</text>
<text x="1192.0" y="683.99" font-size="3.6" fill="#d2d2d2" font-weight="400" text-anchor="start" >신답</text>
<rect x="917.44" y="564.09" width="3.4" height="3.4" rx="1.7" ry="1.7" fill="#fff" stroke="#dadada" stroke-width="0.6"/>
<rect x="937.58" y="564.09" width="3.4" height="3.4" rx="1.7" ry="1.7" fill="#fff" stroke="#dadada" stroke-width="0.6"/>
<rect x="957.71" y="564.54" width="3.4" height="3.4" rx="1.7" ry="1.7" fill="#fff" stroke="#dadada" stroke-width="0.6"/>
<rect x="970.01" y="564.09" width="3.4" height="3.4" rx="1.7" ry="1.7" fill="#fff" stroke="#dadada" stroke-width="0.6"/>
<rect x="978.51" y="564.09" width="3.4" height="3.4" rx="1.7" ry="1.7" fill="#fff" stroke="#dadada" stroke-width="0.6"/>
<rect x="1000.21" y="564.09" width="3.4" height="3.4" rx="1.7" ry="1.7" fill="#fff" stroke="#dadada" stroke-width="0.6"/>
<rect x="917.34" y="599.08" width="3.6" height="5" rx="1.8" ry="1.8" fill="#fff" stroke="#dadada" stroke-width="0.6"/>
<rect x="936.78" y="589.81" width="5" height="3.4" rx="1.7" ry="1.7" fill="#fff" stroke="#dadada" stroke-width="0.6"/>
<rect x="966.92" y="576.49" width="6" height="3.2" rx="1.6" ry="1.6" fill="#fff" stroke="#dadada" stroke-width="0.6"/>
<rect x="1000.21" y="588.64" width="3.4" height="4.4" rx="1.7" ry="1.7" fill="#fff" stroke="#dadada" stroke-width="0.6"/>
<rect x="956.24" y="602.66" width="5" height="3.2" rx="1.6" ry="1.6" fill="#fff" stroke="#dadada" stroke-width="0.6"/>
<rect x="937.58" y="622.87" width="3.4" height="4.4" rx="1.7" ry="1.7" fill="#fff" stroke="#dadada" stroke-width="0.6"/>
<rect x="917.44" y="632.48" width="3.4" height="4.4" rx="1.7" ry="1.7" fill="#fff" stroke="#dadada" stroke-width="0.6"/>
<rect x="968.22" y="628.01" width="3.4" height="4.4" rx="1.7" ry="1.7" fill="#fff" stroke="#dadada" stroke-width="0.6"/>
<rect x="998.64" y="614.59" width="3.4" height="4.4" rx="1.7" ry="1.7" fill="#fff" stroke="#dadada" stroke-width="0.6"/>
<rect x="933.10" y="645.73" width="3.4" height="3.4" rx="1.7" ry="1.7" fill="#fff" stroke="#dadada" stroke-width="0.6"/>
<rect x="904.69" y="649.09" width="3.4" height="3.4" rx="1.7" ry="1.7" fill="#fff" stroke="#dadada" stroke-width="0.6"/>
<rect x="968.22" y="648.64" width="3.4" height="3.4" rx="1.7" ry="1.7" fill="#fff" stroke="#dadada" stroke-width="0.6"/>
<rect x="998.79" y="656.25" width="4" height="3.4" rx="1.7" ry="1.7" fill="#fff" stroke="#dadada" stroke-width="0.6"/>
<rect x="968.22" y="664.89" width="3.4" height="4" rx="1.7" ry="1.7" fill="#fff" stroke="#dadada" stroke-width="0.6"/>
<rect x="968.22" y="682.64" width="3.4" height="3.4" rx="1.7" ry="1.7" fill="#fff" stroke="#dadada" stroke-width="0.6"/>
<rect x="1095.34" y="578.63" width="3.4" height="3.4" rx="1.7" ry="1.7" fill="#fff" stroke="#dadada" stroke-width="0.6"/>
<rect x="1066.26" y="601.00" width="3.4" height="3.4" rx="1.7" ry="1.7" fill="#fff" stroke="#dadada" stroke-width="0.6"/>
<rect x="1095.34" y="640.14" width="3.4" height="3.4" rx="1.7" ry="1.7" fill="#fff" stroke="#dadada" stroke-width="0.6"/>
<rect x="1137.04" y="649.09" width="5" height="3.4" rx="1.7" ry="1.7" fill="#fff" stroke="#dadada" stroke-width="0.6"/>
<rect x="1171.54" y="658.48" width="4" height="3.4" rx="1.7" ry="1.7" fill="#fff" stroke="#dadada" stroke-width="0.6"/>
<rect x="1171.84" y="681.89" width="3.4" height="4" rx="1.7" ry="1.7" fill="#fff" stroke="#dadada" stroke-width="0.6"/>
<rect x="1084.83" y="665.87" width="3.4" height="3.4" rx="1.7" ry="1.7" fill="#fff" stroke="#dadada" stroke-width="0.6"/>
<rect x="1127.77" y="682.64" width="3.4" height="3.4" rx="1.7" ry="1.7" fill="#fff" stroke="#dadada" stroke-width="0.6"/>
<rect x="1110.33" y="683.09" width="3.4" height="3.4" rx="1.7" ry="1.7" fill="#fff" stroke="#dadada" stroke-width="0.6"/>
<rect x="1103.17" y="550.57" width="3.4" height="3.6" rx="1.7" ry="1.7" fill="#fff" stroke="#dadada" stroke-width="0.6"/>
<rect x="1124.42" y="550.57" width="3.4" height="3.6" rx="1.7" ry="1.7" fill="#fff" stroke="#dadada" stroke-width="0.6"/>
<rect x="1140.08" y="550.57" width="3.4" height="3.6" rx="1.7" ry="1.7" fill="#fff" stroke="#dadada" stroke-width="0.6"/>
<rect x="1060.67" y="652.14" width="3.4" height="4" rx="1.7" ry="1.7" fill="#fff" stroke="#dadada" stroke-width="0.6"/>
<line x1="1043.36" y1="568.03" x2="1043.36" y2="684.79" stroke="#f2c331" stroke-width="1.9"/>
<line x1="1015.78" y1="684.34" x2="1043.36" y2="684.34" stroke="#2f9e41" stroke-width="1.5"/>
<rect x="1040.33" y="566.58" width="7.4" height="2.9" rx="1.45" ry="1.45" fill="#fff" stroke="#1a1a1a" stroke-width="0.7"/>
<rect x="1039.49" y="624.21" width="4.6" height="2.6" rx="1.3" ry="1.3" fill="#fff" stroke="#1a1a1a" stroke-width="0.7"/>
<rect x="1040.44" y="666.17" width="3.6" height="2.8" rx="1.4" ry="1.4" fill="#fff" stroke="#1a1a1a" stroke-width="0.7"/>
<rect x="1041.96" y="682.69" width="2.8" height="4.2" rx="1.4" ry="1.4" fill="#fff" stroke="#1a1a1a" stroke-width="0.7"/>
<rect x="1014.48" y="683.44" width="2.6" height="3.6" rx="1.3" ry="1.3" fill="#fff" stroke="#1a1a1a" stroke-width="0.7"/>
<rect x="1069.44" y="550.94" width="2.4" height="4.2" rx="1.2" ry="1.2" fill="#fff" stroke="#1a1a1a" stroke-width="0.7"/>
<rect x="1020.47" y="558.41" width="18.79" height="6.26" rx="3.13" fill="#fff" stroke="#9a9a9a" stroke-width="0.7"/><text x="1029.87" y="562.58" font-size="2.9" fill="#333" font-weight="700" text-anchor="middle">왕십리 ›</text>
<rect x="994.75" y="682.1" width="15.66" height="6.27" rx="3.13" fill="#fff" stroke="#9a9a9a" stroke-width="0.7"/><text x="1002.58" y="686.28" font-size="2.9" fill="#333" font-weight="700" text-anchor="middle">강남 ›</text>
<rect x="1076.46" y="549.01" width="18.79" height="6.27" rx="3.13" fill="#fff" stroke="#9a9a9a" stroke-width="0.7"/><text x="1085.86" y="553.19" font-size="2.9" fill="#333" font-weight="700" text-anchor="middle">청량리 ›</text>
<rect x="1047.38" y="687.92" width="15.66" height="6.26" rx="3.13" fill="#fff" stroke="#9a9a9a" stroke-width="0.7"/><text x="1055.21" y="692.09" font-size="2.9" fill="#333" font-weight="700" text-anchor="middle">선릉 ›</text>
<text x="1046.71" y="564.89" font-size="3.4" fill="#333" font-weight="700" text-anchor="start" >왕십리</text>
<text x="1046.26" y="594.87" font-size="3.0" fill="#777" font-weight="500" text-anchor="start" >서울숲</text>
<text x="1040.6" y="617.91" font-size="2.8" fill="#777" font-weight="500" text-anchor="end" >압구정로데오</text>
<text x="1046.71" y="626.63" font-size="3.2" fill="#333" font-weight="700" text-anchor="start" >강남구청</text>
<text x="1039.93" y="664.88" font-size="3.2" fill="#333" font-weight="700" text-anchor="end" >선정릉</text>
<text x="1046.71" y="686.35" font-size="3.2" fill="#333" font-weight="700" text-anchor="start" >선릉</text>
<text x="1026.51" y="682.55" font-size="2.8" fill="#777" font-weight="500" text-anchor="start" >역삼</text>
<path d="M1012.18,679.65 L1015.78,684.58 L1019.38,679.65 Z" fill="#e8365a"/><circle cx="1015.78" cy="677.18" r="4.5" fill="#e8365a"/><text x="1015.78" y="678.18" font-size="2.8" fill="#fff" font-weight="700" text-anchor="middle">도착</text>
<path d="M1067.35,547.18 L1070.87,551.96 L1074.39,547.18 Z" fill="#1fbf6c"/><circle cx="1070.87" cy="544.76" r="4.4" fill="#1fbf6c"/><text x="1070.87" y="545.76" font-size="2.8" fill="#fff" font-weight="700" text-anchor="middle">출발</text>
</g>
<polygon points="200.6,709.8 268.1,709.8 268.1,700.3 287.0,719.1 268.1,737.9 268.1,728.8 200.6,728.8" fill="#243f5e"/>
<polygon points="594.0,709.8 661.5,709.8 661.5,700.3 680.4,719.1 661.5,737.9 661.5,728.8 594.0,728.8" fill="#243f5e"/>
<polygon points="999.9,709.8 1067.4,709.8 1067.4,700.3 1086.3,719.1 1067.4,737.9 1067.4,728.8 999.9,728.8" fill="#243f5e"/>
</svg>
<div id="t1" class="abs">서울시 동북권역 복합 환승 센터 개발로 수도권 및 광역도시 이동 용이</div>
<div id="t2" class="abs">각종 업무지구와 수도권 접근성 확보</div>
<div id="sec" class="abs">서울 동대문구 전출 인구 현황</div>
<div class="abs big l" style="top:241.0px">청량리역</div>
<div class="abs big r" style="top:241.0px">운행노선</div>
<div class="abs lbl" style="left:226.9px;top:272.2px">지하철1호선</div>
<div class="abs sub" style="left:171.2px;top:305.1px">인천-서울역-소요<br>산</div>
<div class="abs lbl" style="left:399.9px;top:272.2px">분당선</div>
<div class="abs sub" style="left:345.7px;top:305.1px">수원-선릉-청량<br>리</div>
<div class="abs lbl" style="left:572.9px;top:272.2px">경의중앙선</div>
<div class="abs sub" style="left:524.7px;top:305.1px">문산-옥수-지<br>평</div>
<div class="abs lbl" style="left:745.9px;top:272.2px">경원선</div>
<div class="abs sub" style="left:670.7px;top:305.1px">서울역-의정부-백마고<br>지</div>
<div class="abs lbl" style="left:918.8px;top:272.2px">KTX강릉선</div>
<div class="abs sub" style="left:865.7px;top:305.1px">서울역-평창-강<br>릉</div>
<div class="abs lbl" style="left:1091.9px;top:272.2px">ITX-경춘선</div>
<div class="abs sub" style="left:1037.7px;top:305.1px">청량리-가평-춘<br>천</div>
<div class="abs big l" style="top:399.0px">청량리역</div>
<div class="abs big r" style="top:399.0px">개통예정</div>
<div class="abs lbl" style="left:329.9px;top:431.5px">GTX-B노선</div>
<div class="abs sub" style="left:274.7px;top:463.1px">송도-여의도-마<br>석</div>
<div class="abs lbl" style="left:543.7px;top:431.5px">GTX-C노선</div>
<div class="abs sub" style="left:497.7px;top:463.1px">양주-삼성-수<br>원</div>
<div class="abs lbl" style="left:757.8px;top:431.5px">강북횡단선</div>
<div class="abs sub" style="left:720.7px;top:463.1px">목동-청량<br>리</div>
<div class="abs lbl" style="left:971.6px;top:431.5px">면목선</div>
<div class="abs sub" style="left:934.7px;top:463.1px">신내-청량<br>리</div>
<div class="abs cap" style="left:117.3px;top:711px">청량리역</div>
<div class="abs cap" style="left:297.3px;top:711px;letter-spacing:-.62px">CBD(시청)</div>
<div class="abs min" style="left:208.9px;top:714.8px;width:60px;height:14px;text-align:center">11분</div>
<div class="abs cap" style="left:511.1px;top:711px">청량리역</div>
<div class="abs cap" style="left:691.1px;top:711px;letter-spacing:-.62px">YBD(여의도)</div>
<div class="abs min" style="left:602.3px;top:714.8px;width:60px;height:14px;text-align:center">33분</div>
<div class="abs cap" style="left:914.2px;top:711px">청량리역</div>
<div class="abs cap" style="left:1095.0px;top:711px;letter-spacing:-.62px">GBD(강남)</div>
<div class="abs min" style="left:1008.2px;top:714.8px;width:60px;height:14px;text-align:center">33분</div>
</body>
</html>
